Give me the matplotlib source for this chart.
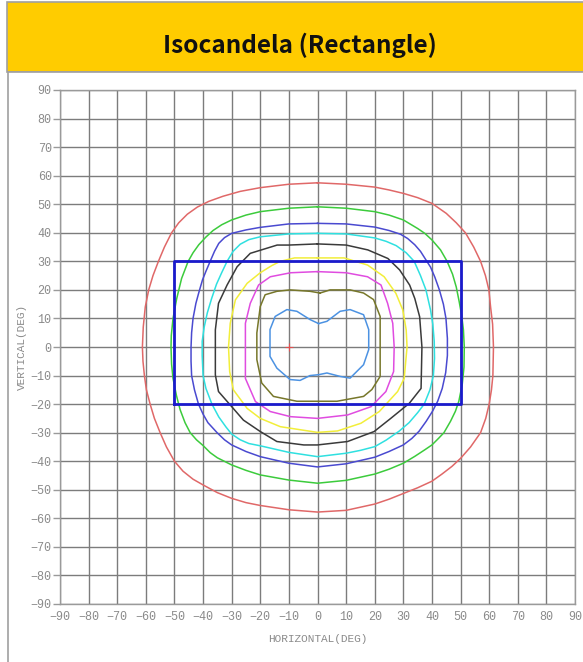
import matplotlib
matplotlib.use("Agg")
import matplotlib.pyplot as plt
from matplotlib.patches import Rectangle

W, H = 583, 662
title = "Isocandela (Rectangle)"
xlabel = "HORIZONTAL(DEG)"
ylabel = "VERTICAL(DEG)"
ticks = list(range(-90, 91, 10))

# beam rectangle (deg)
rect_x = [-50, 50]
rect_y = [-20, 30]
# centre marker
center = (-10, 0)

# isocandela contours, outermost to innermost (deg)
red_x = [0, -10, -20, -27, -33, -38, -42, -45.5, -48.5, -51, -53.5, -55.6, -57.5, -59, -60.2, -60.9, -61.2,
         -61, -60.5, -59.8, -58.5, -57, -55, -52.8, -50, -47, -43.5, -40, -35, -30, -25, -20, -10, 0,
         10, 20, 25, 30, 35, 40, 43.5, 47, 50, 53.5, 57, 58.8, 60, 60.8, 61.3, 61.5,
         61.2, 60.5, 59.9, 58.7, 57, 54.6, 51.7, 48.5, 45, 40, 35, 30, 25, 20, 10, 0]
red_y = [57.5, 57, 55.8, 54.5, 52.8, 51, 49, 46.5, 43.5, 40, 35, 30, 25, 20, 14, 7, 0,
         -5, -10, -15, -20, -25, -30, -35, -40, -43.5, -46.3, -48.3, -51, -53, -54.5, -55.5, -57, -57.8,
         -57.2, -55, -53.3, -51.3, -49.3, -47, -44.5, -41.8, -39, -35, -30, -25, -20, -15, -10, 0,
         8, 14, 20, 25, 30, 35, 40, 43.5, 46.8, 50.3, 52.3, 53.8, 55, 56, 57, 57.5]

green_x = [0, -10, -20, -25, -30, -33.5, -36.5, -39, -41.5, -43.5, -45.2, -47.5, -49.2, -50.5, -51.1, -51.2,
           -51, -50.5, -49.3, -48, -46.3, -44.5, -42.3, -40, -37.5, -35, -30, -25, -20, -10, 0,
           10, 20, 25, 30, 34, 37.5, 40, 42.3, 44.2, 46.5, 48.2, 49.4, 50.6, 51.2, 51.3,
           51, 50.4, 49.5, 48.5, 47.2, 45.3, 43, 40, 37.5, 35, 30, 25, 20, 10, 0]
green_y = [49.1, 48.6, 47.4, 46.2, 44.5, 42.8, 40.8, 38.5, 35.8, 33, 30, 24, 17, 10, 4, 0,
           -6, -11, -17, -22, -26.5, -30, -32.5, -34.5, -37, -38.8, -41.3, -43.2, -44.8, -46.6, -47.7,
           -46.7, -44.5, -42.8, -40.7, -38.3, -36, -34.3, -32, -30, -26, -22.5, -19, -13, -7, 0,
           6, 11, 16, 21, 25.5, 30, 34, 37.5, 39.8, 41.5, 44.5, 46.2, 47.4, 48.6, 49.1]

slate_x = [0, -10, -20, -25, -30, -32.5, -34.5, -36, -37.3, -39, -40.2, -41.5, -42.5, -43.5, -44, -44.2,
           -44.2, -44, -43, -41.6, -40, -38.3, -35.1, -32.5, -30, -25, -20, -10, 0,
           10, 20, 25, 30, 33, 35.5, 38, 40.2, 42, 43.6, 44.8, 45.4, 45.4,
           44.9, 44, 42.6, 41, 39.5, 37.9, 36, 34, 31.5, 29, 25, 20, 10, 0]
slate_y = [43.3, 43.1, 41.9, 41, 39.8, 38.3, 36.3, 33.5, 30.5, 26.5, 23.5, 19, 15.3, 10, 5, 0,
           -5, -10, -15, -20, -23.5, -26.5, -30, -32.5, -34.3, -36.6, -38.4, -40.7, -42,
           -40.9, -38.6, -36.6, -34.3, -32, -29.5, -26, -22.5, -19, -14.5, -9, -3, 3,
           10, 15, 20, 24.5, 28, 30.5, 33.5, 35.8, 38, 39.5, 40.8, 42, 43.1, 43.3]

cyan_x = [0, -10, -20, -24, -27, -29.5, -31.6, -33.5, -35.3, -37, -38.5, -39.6, -40.3,
          -40.3, -40, -39, -36.9, -34.5, -32, -30, -27, -24, -20, -10, 0,
          10, 15, 20, 24, 28.5, 32, 35, 37.3, 39.3, 40.5, 40.9,
          40.8, 40.3, 39.5, 37.9, 36, 33.8, 31, 27.5, 24, 20, 10, 0]
cyan_y = [39.8, 39.6, 38.6, 37.6, 36, 33.5, 30, 26, 22, 17, 12, 7, 2,
          -3, -10, -14.5, -20, -24.5, -28, -30.5, -32.5, -33.8, -34.6, -36.9, -38.4,
          -37.2, -36.2, -34.9, -32.6, -29.5, -26.5, -23, -20, -15, -10, -4,
          2, 8, 13, 20, 25, 30, 33, 35.5, 37, 38.2, 39.6, 39.8]

black_x = [0, -10, -14.1, -23.5, -28.1, -31.6, -34.6, -35.7, -35.7, -35.7, -34.6, -30.5, -25.9, -20, -14.2, -4.8, 0,
           10.5, 19.8, 25.6, 32.1, 36.2, 36.5, 35.7, 34, 32.2, 28.7, 24.6, 17.6, 10, 0]
black_y = [36.1, 35.7, 35.7, 32.8, 28.1, 21.7, 15.3, 6, 0, -9.8, -15.6, -20.3, -25.6, -29.6, -33.1, -34.3, -34.3,
           -33.1, -29.6, -25, -19.7, -14.5, 0, 10.6, 17, 21.7, 27, 31, 34, 35.7, 36.1]

yellow_x = [0, -8, -13, -16, -20, -24.6, -28.7, -30.5, -31.1, -30.7, -29.4, -24.6, -20, -13, 0,
            7, 15.2, 21.6, 28, 30.3, 31.3, 31, 29.8, 27.4, 23.3, 17.5, 9.3, 0]
yellow_y = [31.2, 31.2, 30, 28.5, 26, 22.3, 16.5, 8.3, 0, -8.6, -15, -21.5, -25, -27.9, -29.9,
            -29.4, -26.7, -22.6, -15.6, -11, 0, 6, 13, 18.8, 24.6, 28.7, 31.2, 31.2]

magenta_x = [0, -9.4, -16.5, -20.6, -23.5, -25.2, -25.2, -25.2, -21.7, -16.5, -9.4, 0,
             10.5, 18.7, 23.9, 26.6, 26.8, 26.3, 24.5, 22.2, 17.5, 10, 0]
magenta_y = [26.4, 26, 24.6, 21.7, 15.3, 8.3, 0, -11, -19.1, -22.6, -24.4, -25,
             -23.8, -20.9, -15.6, -8.6, 0, 8.3, 15.3, 21.7, 24.6, 26, 26.4]

olive_x = [0.9, -2.6, -9.6, -14.2, -18.3, -20, -21.2, -21.2, -19.5, -15.4, -7.2, 0.9,
           6.8, 16.1, 19, 21.9, 21.9, 21.9, 19.6, 16.1, 11.4, 4.4, 0.9]
olive_y = [18.9, 19.5, 20, 19.5, 18.3, 14.2, 4.9, -4.4, -12.6, -17.3, -19, -19,
           -19, -17.3, -14.9, -10.3, 0.2, 10.7, 16.6, 18.9, 20, 20, 18.9]

lblue_x = [0.4, -2.6, -7.2, -10.7, -14.8, -16.6, -16.6, -16.6, -14.2, -9.6, -6.1, -2.6, 0.4,
           3.3, 7.9, 11.4, 16.1, 17.9, 17.9, 16.1, 11.4, 7.9, 3.3, 0.4]
lblue_y = [8.2, 9.6, 12.5, 13.1, 10.7, 6.1, 1.4, -3.3, -7.4, -11.4, -11.7, -10, -9.7,
           -9.1, -10.3, -10.9, -6.2, -0.9, 6.1, 11.3, 13.1, 12.5, 9, 8.2]

contours = [
    (red_x, red_y, "#E06868"),
    (green_x, green_y, "#3CCB3C"),
    (slate_x, slate_y, "#4A4AD0"),
    (cyan_x, cyan_y, "#2FE0E0"),
    (black_x, black_y, "#3A3A3A"),
    (yellow_x, yellow_y, "#F2EE3A"),
    (magenta_x, magenta_y, "#E04CE0"),
    (olive_x, olive_y, "#77772A"),
    (lblue_x, lblue_y, "#4C92E2"),
]

fig = plt.figure(figsize=(W / 100, H / 100), dpi=100)
fig.patch.set_facecolor("white")


def fx(px):
    return px / W


def fy(py):
    return 1 - py / H


fig.patches.append(Rectangle((fx(7), fy(72)), fx(590) - fx(7), fy(2) - fy(72),
                             transform=fig.transFigure, facecolor="#FFCC00",
                             edgecolor="#A0A0A0", linewidth=1.2, zorder=-5))
fig.patches.append(Rectangle((fx(8), fy(700)), fx(600) - fx(8), fy(72) - fy(700),
                             transform=fig.transFigure, facecolor="white",
                             edgecolor="#A0A0A0", linewidth=1.2, zorder=-5))
fig.text(fx(300), fy(45), title, ha="center", va="center", fontsize=17.5,
         fontweight="bold", family=["Noto Sans CJK KR", "DejaVu Sans"], color="#111111")

ax = fig.add_axes([fx(60), fy(604), fx(575) - fx(60), fy(90) - fy(604)])
ax.set_zorder(2)
ax.set_xlim(-90, 90)
ax.set_ylim(-90, 90)
ax.set_xticks(ticks)
ax.set_yticks(ticks)
ax.grid(True, color="#7c7c7c", linewidth=1.0)
ax.set_axisbelow(True)
for s in ax.spines.values():
    s.set_color("#9a9a9a")
    s.set_linewidth(1.0)
ax.tick_params(axis="y", direction="out", length=5, color="#9a9a9a", width=1,
               labelsize=8.5, labelcolor="#8a8a8a", pad=1)
ax.tick_params(axis="x", length=0, labelsize=8.5, labelcolor="#8a8a8a", pad=5)
for lab in ax.get_xticklabels() + ax.get_yticklabels():
    lab.set_family("Liberation Mono")

ax.set_xlabel(xlabel, family="Liberation Mono", fontsize=8, color="#8a8a8a", labelpad=8)
ax.set_ylabel(ylabel, family="Liberation Mono", fontsize=8, color="#8a8a8a", labelpad=3)

for xs, ys, c in contours:
    ax.plot(xs, ys, color=c, linewidth=1.1, zorder=3)

ax.plot([rect_x[0], rect_x[1], rect_x[1], rect_x[0], rect_x[0]],
        [rect_y[0], rect_y[0], rect_y[1], rect_y[1], rect_y[0]],
        color="#1A1ACC", linewidth=2.0, zorder=4)
ax.plot([center[0]], [center[1]], marker="+", color="#E05050", markersize=6,
        markeredgewidth=0.8, zorder=5)

fig.savefig("out.png", dpi=100)
